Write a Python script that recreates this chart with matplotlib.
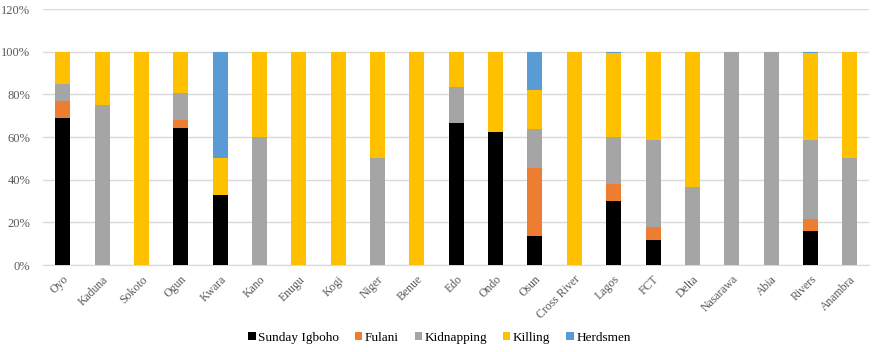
import numpy as np
from matplotlib import pyplot as plt
from matplotlib.ticker import PercentFormatter

states = ["Oyo", "Kaduna", "Sokoto", "Ogun", "Kwara", "Kano", "Enugu", "Kogi",
          "Niger", "Benue", "Edo", "Ondo", "Osun", "Cross River", "Lagos", "FCT",
          "Delta", "Nasarawa", "Abia", "Rivers", "Anambra"]

# shares (%)
igboho     = [69, 0, 0, 64, 33, 0, 0, 0, 0, 0, 66.7, 62.5, 13.6, 0, 30, 11.7, 0, 0, 0, 16, 0]
fulani     = [8, 0, 0, 4.2, 0, 0, 0, 0, 0, 0, 0, 0, 31.8, 0, 8, 6.1, 0, 0, 0, 5.6, 0]
kidnapping = [8, 75, 0, 12.6, 0, 60, 0, 0, 50, 0, 16.6, 0, 18.2, 0, 21.8, 41, 36.6, 100, 100, 37.2, 50]
killing    = [15, 25, 100, 19.2, 17, 40, 100, 100, 50, 100, 16.7, 37.5, 18.2, 100, 39.4, 41.2, 63.4, 0, 0, 40.4, 50]
herdsmen   = [0, 0, 0, 0, 50, 0, 0, 0, 0, 0, 0, 0, 18.2, 0, 0.8, 0, 0, 0, 0, 0.8, 0]

series = [("Sunday Igboho", igboho, "#000000"),
          ("Fulani", fulani, "#ED7D31"),
          ("Kidnapping", kidnapping, "#A5A5A5"),
          ("Killing", killing, "#FFC000"),
          ("Herdsmen", herdsmen, "#5B9BD5")]

plt.rcParams['font.family'] = ['Liberation Serif', 'DejaVu Serif']

fig = plt.figure(figsize=(8.79, 3.52), dpi=100)
ax = fig.add_axes([43 / 879, 1 - 265 / 352, (869.5 - 43) / 879, (265 - 9) / 352])

x = np.arange(len(states))
bottom = np.zeros(len(states))
for name, vals, col in series:
    vals = np.array(vals, dtype=float)
    ax.bar(x, vals, bottom=bottom, width=0.38, color=col, label=name, zorder=3)
    bottom += vals

ax.set_xlim(-0.5, len(states) - 0.5)
ax.set_ylim(0, 120)
ax.set_yticks(np.arange(0, 121, 20))
ax.yaxis.set_major_formatter(PercentFormatter(decimals=0))
ax.grid(axis='y', color='#D9D9D9', linewidth=1, zorder=0)
for s in ['top', 'right', 'left']:
    ax.spines[s].set_visible(False)
ax.spines['bottom'].set_color('#D9D9D9')
ax.tick_params(axis='both', length=0, colors='#595959', labelsize=9)
ax.tick_params(axis='y', pad=9)
ax.set_xticks(x)
ax.set_xticklabels(states, rotation=45, ha='right', rotation_mode='anchor',
                   fontsize=8.5)
ax.tick_params(axis='x', pad=6)

fig.legend(loc='center', bbox_to_anchor=(0.5, 1 - 338 / 352), ncol=5, frameon=False,
           fontsize=9.5, handlelength=0.55, handleheight=0.55, columnspacing=1.2,
           handletextpad=0.2)

plt.savefig("out.png", dpi=100)
